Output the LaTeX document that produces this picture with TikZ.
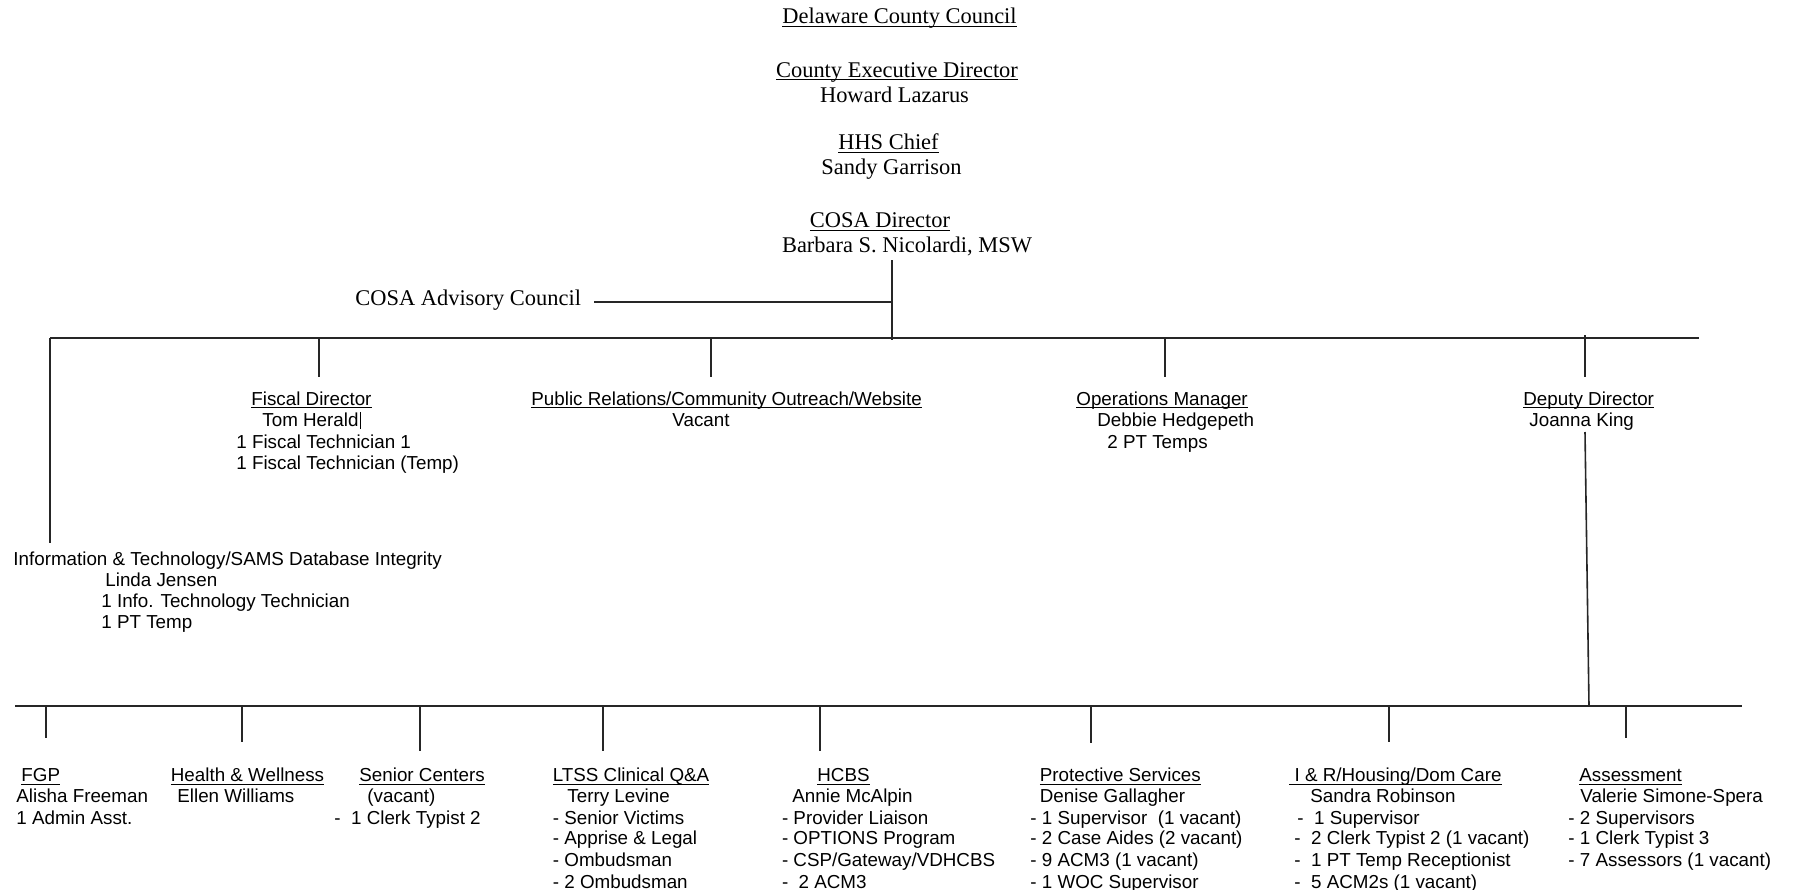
\documentclass[tikz,border=0pt]{standalone}
\usepackage{fontspec}
\setmainfont{Liberation Serif}
\newfontfamily\arialf{Liberation Sans}
\newlength\ulwd
\newcommand\ulx[1]{\settowidth\ulwd{#1}\rlap{\rule[-1.6pt]{\ulwd}{0.5pt}}#1}
\begin{document}
\begin{tikzpicture}[x=0.5pt,y=-0.5pt,
  serif/.style={font=\fontsize{11.22}{13}\selectfont, inner sep=0pt, anchor=base},
  sans/.style={font=\arialf\fontsize{9.4}{11}\selectfont, inner sep=0pt, anchor=base west},
  link/.style={line width=0.8pt, draw=black!85}]
\useasboundingbox (0,0) rectangle (1794,889);
\clip (0,0) rectangle (1794,889);

% ---- top chain (serif)
\node[serif] (council) at (899.5,23.5) {\ulx{Delaware County Council}};
\node[serif] (ced) at (897,77) {\ulx{County Executive Director}};
\node[serif] (howard) at (894.5,102) {Howard Lazarus};
\node[serif] (hhs) at (888.5,149.5) {\ulx{HHS Chief}};
\node[serif] (sandy) at (891.5,174.5) {Sandy Garrison};
\node[serif] (cosa) at (880,227.5) {\ulx{COSA Director}};
\node[serif] (barbara) at (907,252.8) {Barbara S. Nicolardi, MSW};
\node[serif, anchor=base west] (adv) at (355,305.5) {COSA Advisory Council};

% ---- connectors top
\coordinate (dirtop) at (892,260);
\coordinate (advj) at (892,302);
\coordinate (advend) at (594,302);
\coordinate (b1dir) at (892,340);
\coordinate (b1L) at (50,338);
\coordinate (b1R) at (1699,338);
\draw[link] (dirtop) -- (b1dir);
\draw[link] (advend) -- (advj);
\draw[link] (b1L) -- (b1R);
\coordinate (itend) at (50,543);
\draw[link] (b1L) -- (itend);
\foreach \n/\x/\s in {fis/319/338, pr/711/338, ops/1165/338, dep/1585/335} {
  \coordinate (\n top) at (\x,\s);
  \coordinate (\n tick) at (\x,377);
  \draw[link] (\n top) -- (\n tick);
}

% ---- middle level (sans)
\node[sans] (fis) at (251,405) {\ulx{Fiscal Director}};
\node[sans] (fis1) at (262,426.5) {Tom Herald};
\node[sans] (fis2) at (236,448) {1 Fiscal Technician 1};
\node[sans] (fis3) at (236,469.5) {1 Fiscal Technician (Temp)};
\draw[line width=0.5pt] ([xshift=1pt]fis1.east) ++(0,-8) -- ++(0,17);

\node[sans] (pr) at (531,405) {\ulx{Public Relations/Community Outreach/Website}};
\node[sans] (pr1) at (672,426.5) {Vacant};

\node[sans] (ops) at (1076,405) {\ulx{Operations Manager}};
\node[sans] (ops1) at (1097,426.5) {Debbie Hedgepeth};
\node[sans] (ops2) at (1107,448) {2 PT Temps};

\node[sans] (dep) at (1523,405) {\ulx{Deputy Director}};
\node[sans] (dep1) at (1529,426.5) {Joanna King};

\node[sans] (it) at (13,565) {Information \& Technology/SAMS Database Integrity};
\node[sans] (it1) at (105,586.3) {Linda Jensen};
\node[sans] (it2) at (101,607.6) {1 Info. Technology Technician};
\node[sans] (it3) at (101,628.9) {1 PT Temp};

% ---- lower bus
\coordinate (deptop) at (1585,432);
\coordinate (depbus) at (1589,706);
\draw[link] (deptop) -- (depbus);
\coordinate (b2L) at (15,706);
\coordinate (b2R) at (1742,706);
\draw[link] (b2L) -- (b2R);
\foreach \n/\x/\e in {fgp/46/738, hw/242/742, sc/420/751, lt/603/751, hc/820/751, ps/1091/743, ir/1389/742, as/1626/738} {
  \coordinate (\n top) at (\x,706);
  \coordinate (\n tick) at (\x,\e);
  \draw[link] (\n top) -- (\n tick);
}

% ---- bottom units
\def\ya{781.5}\def\yb{802.8}\def\yc{824}\def\yd{844.8}\def\ye{866}\def\yf{888.5}
\node[sans] (fgp) at (21,\ya) {\ulx{FGP}};
\node[sans] (fgp1) at (16,\yb) {Alisha Freeman};
\node[sans] (fgp2) at (16,\yc) {1 Admin Asst.};

\node[sans] (hw) at (170.5,\ya) {\ulx{Health \& Wellness}};
\node[sans] (hw1) at (177,\yb) {Ellen Williams};

\node[sans] (sc) at (359,\ya) {\ulx{Senior Centers}};
\node[sans] (sc1) at (367,\yb) {(vacant)};
\node[sans] (sc2) at (334,\yc) {-\ \ 1 Clerk Typist 2};

\node[sans] (lt) at (552.5,\ya) {\ulx{LTSS Clinical Q\&A}};
\node[sans] (lt1) at (567,\yb) {Terry Levine};
\node[sans] (lt2) at (552.5,\yc) {- Senior Victims};
\node[sans] (lt3) at (552.5,\yd) {- Apprise \& Legal};
\node[sans] (lt4) at (552.5,\ye) {- Ombudsman};
\node[sans] (lt5) at (552.5,\yf) {- 2 Ombudsman};

\node[sans] (hc) at (817,\ya) {\ulx{HCBS}};
\node[sans] (hc1) at (792,\yb) {Annie McAlpin};
\node[sans] (hc2) at (781.6,\yc) {- Provider Liaison};
\node[sans] (hc3) at (781.6,\yd) {- OPTIONS Program};
\node[sans] (hc4) at (781.6,\ye) {- CSP/Gateway/VDHCBS};
\node[sans] (hc5) at (781.6,\yf) {-\ \ 2 ACM3};

\node[sans] (ps) at (1039.5,\ya) {\ulx{Protective Services}};
\node[sans] (ps1) at (1039.5,\yb) {Denise Gallagher};
\node[sans] (ps2) at (1030,\yc) {- 1 Supervisor\ \ (1 vacant)};
\node[sans] (ps3) at (1030,\yd) {- 2 Case Aides (2 vacant)};
\node[sans] (ps4) at (1030,\ye) {- 9 ACM3 (1 vacant)};
\node[sans] (ps5) at (1030,\yf) {- 1 WOC Supervisor};

\node[sans] (ir) at (1289,\ya) {\ulx{\ I \& R/Housing/Dom Care}};
\node[sans] (ir1) at (1310,\yb) {Sandra Robinson};
\node[sans] (ir2) at (1297,\yc) {-\ \ 1 Supervisor};
\node[sans] (ir3) at (1294,\yd) {-\ \ 2 Clerk Typist 2 (1 vacant)};
\node[sans] (ir4) at (1294,\ye) {-\ \ 1 PT Temp Receptionist};
\node[sans] (ir5) at (1294,\yf) {-\ \ 5 ACM2s (1 vacant)};

\node[sans] (as) at (1579,\ya) {\ulx{Assessment}};
\node[sans] (as1) at (1580,\yb) {Valerie Simone-Spera};
\node[sans] (as2) at (1568,\yc) {- 2 Supervisors};
\node[sans] (as3) at (1568,\yd) {- 1 Clerk Typist 3};
\node[sans] (as4) at (1568,\ye) {- 7 Assessors (1 vacant)};
\end{tikzpicture}
\end{document}
